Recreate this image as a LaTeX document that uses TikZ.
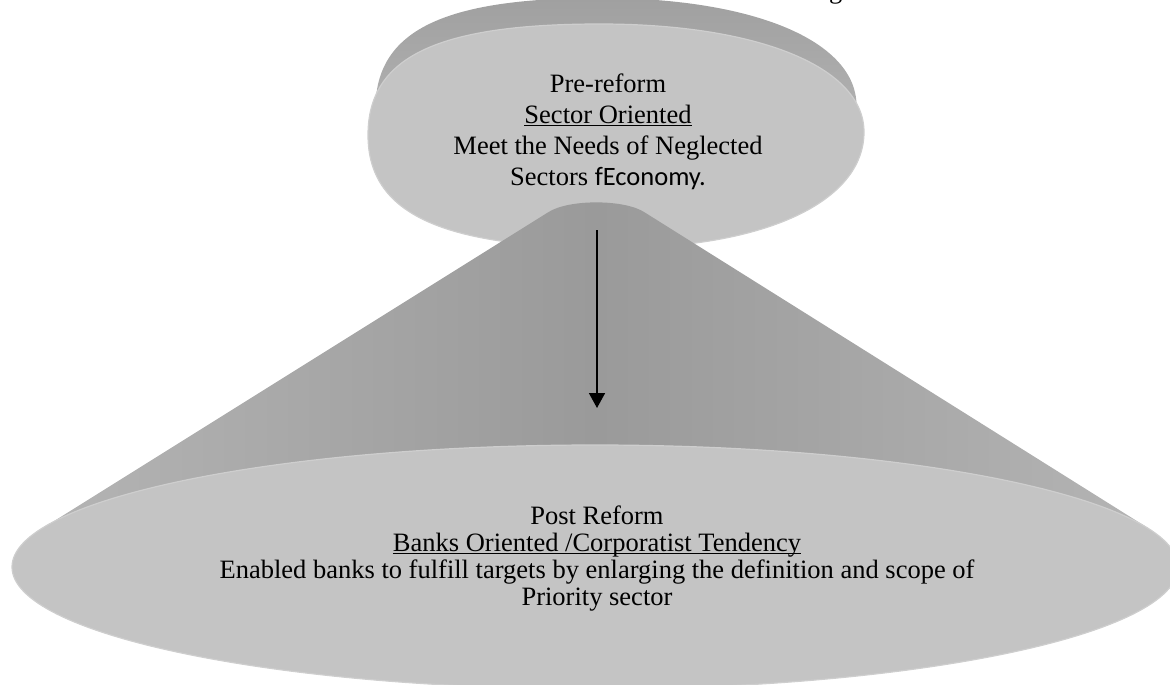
\documentclass[tikz,border=0pt]{standalone}
\usepackage{fontspec}
\setmainfont{Liberation Serif}
\newfontfamily\carlitofont{Carlito}
\usetikzlibrary{arrows.meta}
\definecolor{facegray}{HTML}{C4C4C4}
\definecolor{faceedge}{HTML}{CECECE}
\definecolor{conemid}{HTML}{9A9A9A}
\definecolor{coneedge}{HTML}{B4B4B4}
\definecolor{rimdark}{HTML}{A0A0A0}
\definecolor{rimlight}{HTML}{C0C0C0}
\tikzset{
  facefill/.style={fill=facegray, draw=faceedge, line width=1.2pt},
  toptext/.style={align=center, inner sep=0pt, font=\fontsize{26.5}{31}\selectfont},
  bottext/.style={align=center, inner sep=0pt, font=\fontsize{26.5}{27}\selectfont},
  flowarrow/.style={line width=1.6pt, -{Triangle[width=16pt,length=15pt]}}
}
\begin{document}
\begin{tikzpicture}[x=1pt,y=-1pt]
\useasboundingbox (0,0) rectangle (1170,685);
% top disc rim
\begin{scope}[shift={(616,109)}, xscale=0.97, shift={(-616,-135)}]
\shade[top color=rimdark, bottom color=rimlight]
  (368,135) .. controls (368,57) and (437,24) .. (600,24)
  .. controls (758,24) and (864,67) .. (864,132)
  .. controls (864,202) and (764,248) .. (615,248)
  .. controls (442,248) and (368,214) .. (368,135) -- cycle;
\end{scope}
% top disc face
\path[facefill]
  (368,135) .. controls (368,57) and (437,24) .. (600,24)
  .. controls (758,24) and (864,67) .. (864,132)
  .. controls (864,202) and (764,248) .. (615,248)
  .. controls (442,248) and (368,214) .. (368,135) -- cycle;
% cone
\shade[left color=coneedge, right color=coneedge, middle color=conemid]
  (43,528) -- (548,212.4) .. controls (568,199) and (625,199) .. (645,212.6)
  -- (1148,528) -- cycle;
% bottom disc face
\path[facefill] (595,567) ellipse [x radius=583, y radius=122];
% texts
\node[toptext] (pre) at (608,131.5) {Pre-reform\\\underline{Sector Oriented}\\Meet the Needs of Neglected\\Sectors {\carlitofont fEconomy.}};
\node[bottext] (post) at (597,559) {Post Reform\\\underline{\smash{Banks Oriented /Corporatist Tendency}}\\Enabled banks to fulfill targets by enlarging the definition and scope of\\Priority sector};
\node[anchor=base west, inner sep=0pt, font=\fontsize{26.5}{31}\selectfont] (gfrag) at (829,-1.5) {g};
% arrow
\coordinate (arrS) at (597,230);
\coordinate (arrE) at (597,408);
\draw[flowarrow] (arrS) -- (arrE);
\end{tikzpicture}
\end{document}
